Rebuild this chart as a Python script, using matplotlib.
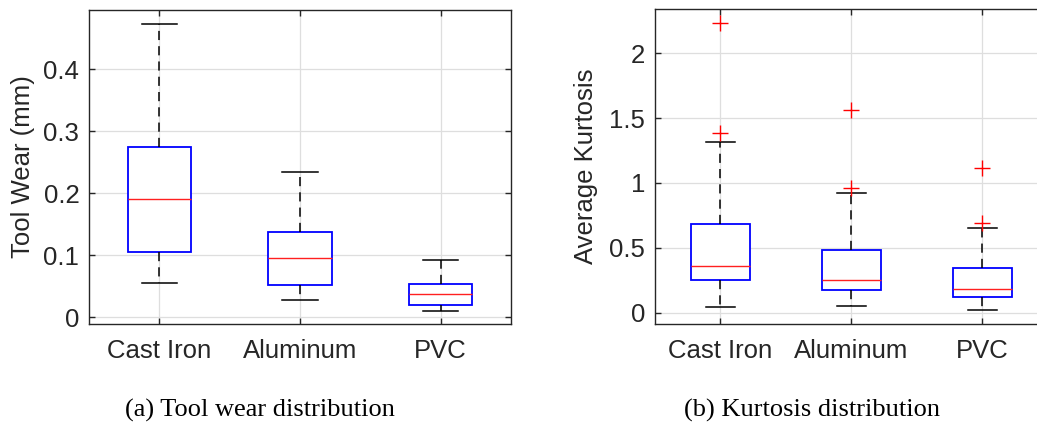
import matplotlib.pyplot as plt

# (box plot summary statistics)
materials = ["Cast Iron", "Aluminum", "PVC"]

wear_whislo = [0.055, 0.027, 0.010]
wear_q1 = [0.105, 0.052, 0.020]
wear_med = [0.191, 0.095, 0.038]
wear_q3 = [0.275, 0.137, 0.054]
wear_whishi = [0.473, 0.235, 0.093]
wear_fliers = [[], [], []]

kurt_whislo = [0.041, 0.049, 0.021]
kurt_q1 = [0.249, 0.172, 0.123]
kurt_med = [0.360, 0.252, 0.180]
kurt_q3 = [0.686, 0.483, 0.344]
kurt_whishi = [1.316, 0.920, 0.656]
kurt_fliers = [[2.237, 1.383], [1.563, 0.964], [1.118, 0.689]]

wear_ticks = [0, 0.1, 0.2, 0.3, 0.4]
kurt_ticks = [0, 0.5, 1, 1.5, 2]

SPINE = "#262626"
GRID = "#dedede"
FS = 18.5


def make_stats(whislo, q1, med, q3, whishi, fliers):
    stats = []
    for i in range(len(materials)):
        stats.append({
            "label": materials[i],
            "whislo": whislo[i], "q1": q1[i], "med": med[i],
            "q3": q3[i], "whishi": whishi[i], "fliers": fliers[i],
        })
    return stats


def draw_box(ax, stats, capwidth):
    ax.bxp(
        stats,
        positions=[1, 2, 3],
        widths=0.45,
        capwidths=capwidth,
        showfliers=True,
        patch_artist=True,
        boxprops=dict(facecolor="white", edgecolor="#0000ff", linewidth=1.3),
        medianprops=dict(color="#ff2020", linewidth=1.0),
        whiskerprops=dict(color="black", linewidth=1.1, linestyle=(0, (6, 4))),
        capprops=dict(color="black", linewidth=1.1),
        flierprops=dict(marker="+", markeredgecolor="#ff0000", markersize=11,
                        markeredgewidth=1.0, linestyle="none"),
        zorder=3,
    )
    ax.set_xlim(0.5, 3.5)
    ax.grid(True, color=GRID, linewidth=0.9, zorder=0)
    ax.set_axisbelow(True)
    ax.tick_params(direction="in", length=4, width=1, color=SPINE,
                   top=True, right=True, labelsize=FS, labelcolor="#262626")
    ax.tick_params(axis="x", pad=11)
    ax.tick_params(axis="y", pad=7)
    for s in ax.spines.values():
        s.set_color(SPINE)
        s.set_linewidth(1.0)


plt.rcParams["font.family"] = ["Liberation Sans", "DejaVu Sans"]

fig = plt.figure(figsize=(10.37, 4.30), dpi=100)

ax1 = fig.add_axes([89 / 1037, 1 - 324 / 430, 422 / 1037, 314 / 430])
draw_box(ax1, make_stats(wear_whislo, wear_q1, wear_med, wear_q3, wear_whishi, wear_fliers), 0.25)
ax1.set_ylim(-0.011, 0.4956)
ax1.set_yticks(wear_ticks)
ax1.set_yticklabels(["0", "0.1", "0.2", "0.3", "0.4"])
ax1.set_xticks([1, 2, 3])
ax1.set_xticklabels(materials)
ax1.set_ylabel("Tool Wear (mm)", fontsize=FS, color="#262626")
ax1.yaxis.set_label_coords(-0.128, 0.5)

ax2 = fig.add_axes([654.7 / 1037, 1 - 324 / 430, 393 / 1037, 314.7 / 430])
draw_box(ax2, make_stats(kurt_whislo, kurt_q1, kurt_med, kurt_q3, kurt_whishi, kurt_fliers), 0.22)
ax2.set_ylim(-0.087, 2.339)
ax2.set_yticks(kurt_ticks)
ax2.set_yticklabels(["0", "0.5", "1", "1.5", "2"])
ax2.set_xticks([1, 2, 3])
ax2.set_xticklabels(materials)
ax2.set_ylabel("Average Kurtosis", fontsize=FS, color="#262626")
ax2.yaxis.set_label_coords(-0.145, 0.5)

fig.text(260 / 1037, 1 - 410 / 430, "(a) Tool wear distribution",
         family=["Liberation Serif", "DejaVu Serif"], fontsize=19,
         ha="center", va="center")
fig.text(812 / 1037, 1 - 410 / 430, "(b) Kurtosis distribution",
         family=["Liberation Serif", "DejaVu Serif"], fontsize=19,
         ha="center", va="center")

fig.savefig("out.png", dpi=100)
plt.close(fig)
